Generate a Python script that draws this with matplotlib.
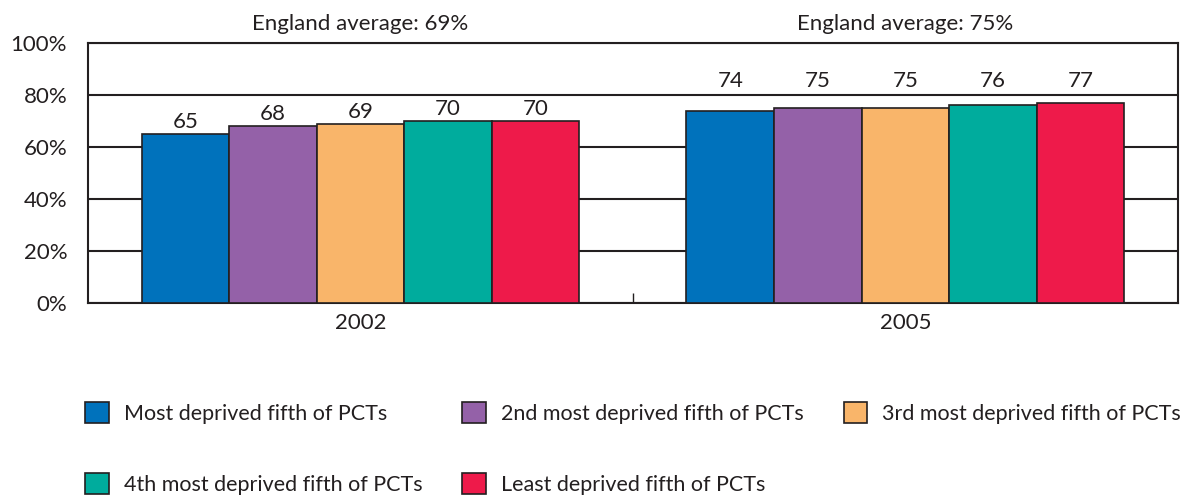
import numpy as np
import matplotlib.pyplot as plt

# data
years = ["2002", "2005"]
england_avg = [69, 75]
groups = ["Most deprived fifth of PCTs", "2nd most deprived fifth of PCTs",
          "3rd most deprived fifth of PCTs", "4th most deprived fifth of PCTs",
          "Least deprived fifth of PCTs"]
values = [
    [65, 74],
    [68, 75],
    [69, 75],
    [70, 76],
    [70, 77],
]
colors = ["#0072BC", "#9461A8", "#F9B56A", "#00AC9D", "#EE1A4A"]
yticks = [0, 20, 40, 60, 80, 100]

plt.rcParams['font.family'] = ['Lato', 'DejaVu Sans']
plt.rcParams['font.size'] = 16
ink = "#231F20"

fig = plt.figure(figsize=(11.91, 4.95), dpi=100)
ax = fig.add_axes([0.0739, 0.388, 0.9151, 0.525])

x = np.arange(len(years))
width = 0.1607
handles = []
for i, (name, vals, col) in enumerate(zip(groups, values, colors)):
    pos = x + (i - 2) * width
    b = ax.bar(pos, vals, width, color=col, edgecolor=ink, linewidth=1.2,
               label=name, zorder=3)
    handles.append(b)
    for p, v in zip(pos, vals):
        # labels that would cross the 80% gridline are lifted above it
        ly = v + 0.8 if v + 9 < 80 else 81.5
        ax.text(p, ly, str(v), ha="center", va="bottom",
                fontsize=16, color=ink, zorder=4)

for xi, avg in zip(x, england_avg):
    ax.text(xi, 103.3, f"England average: {avg}%", ha="center", va="bottom",
            fontsize=16, color=ink)

ax.set_xlim(-0.5, 1.5)
ax.set_ylim(0, 100)
ax.set_yticks(yticks)
ax.set_yticklabels([f"{t}%" for t in yticks])
ax.tick_params(axis="y", length=0, pad=15, labelsize=16, colors=ink)
ax.set_xticks(x)
ax.set_xticklabels(years)
ax.tick_params(axis="x", length=0, pad=7, labelsize=16, colors=ink)
ax.set_xticks([0.5], minor=True)
ax.tick_params(axis="x", which="minor", direction="in", length=7,
               width=1, color=ink)

ax.yaxis.grid(True, color=ink, linewidth=1.5, zorder=0)
ax.set_axisbelow(True)
for s in ax.spines.values():
    s.set_color(ink)
    s.set_linewidth(1.5)

# reorder so the legend reads row by row
order = [0, 3, 1, 4, 2]
leg = fig.legend([handles[k] for k in order], [groups[k] for k in order],
                 loc="lower left", bbox_to_anchor=(0.0714, 0.0), ncol=3,
                 frameon=False, fontsize=15.5, borderpad=0.0, borderaxespad=0.0,
                 handlelength=1.1, handleheight=1.1,
                 handletextpad=0.7, labelspacing=2.3, columnspacing=1.85)
for t in leg.get_texts():
    t.set_color(ink)

fig.savefig("out.png", dpi=100)
